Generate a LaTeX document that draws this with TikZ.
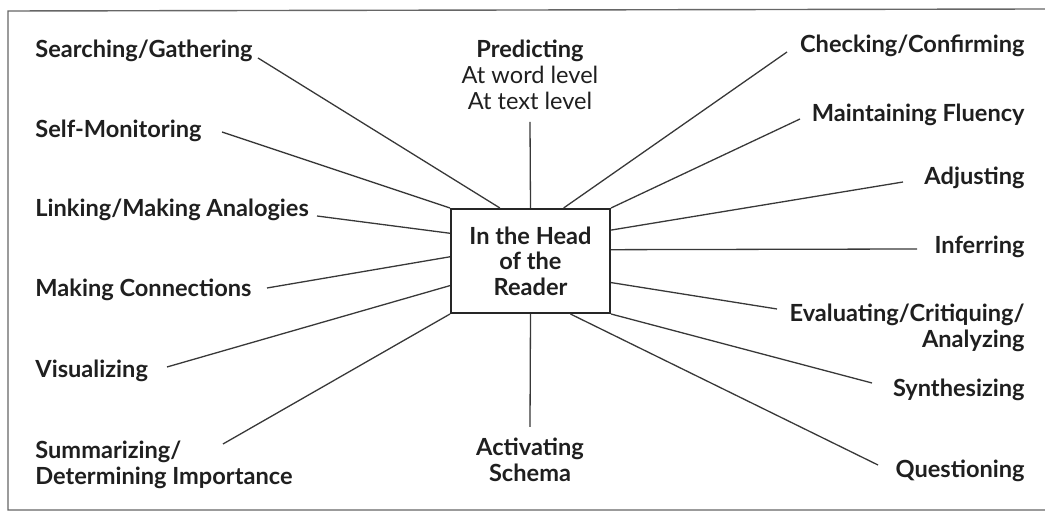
\documentclass[tikz,border=0pt]{standalone}
\usepackage{fontspec}
\setmainfont{Lato}
\begin{document}
\begin{tikzpicture}[x=0.5pt,y=-0.5pt,
		lab/.style={font=\fontsize{11.8}{13}\selectfont\bfseries, text=black!88, inner sep=0pt},
		spoke/.style={draw=black!78, line width=0.65pt},
		headbox/.style={draw=black!85, line width=1pt, minimum width=79.5pt, minimum height=52pt,
			inner sep=0pt, align=center, font=\fontsize{11.8}{12.8}\selectfont\bfseries, text=black!88},
		frame/.style={draw=black!60, line width=0.7pt}]
		\useasboundingbox (0,0) rectangle (1045,512);
		\draw[frame] (1045,9) -- (8,11) -- (8,510) -- (1045,510);
		
		\node[headbox] (head) at (530.5,261) {In the Head\\of the\\Reader};
		
		% left side
		\node[lab, anchor=base west] (search) at (35,58) {Searching/Gathering};
		\node[lab, anchor=base west] (selfmon) at (35,138) {Self-Monitoring};
		\node[lab, anchor=base west] (linking) at (35,217) {Linking/Making Analogies};
		\node[lab, anchor=base west] (connect) at (35,297) {Making Connections};
		\node[lab, anchor=base west] (visual) at (35,378) {Visualizing};
		\node[lab, anchor=base west, align=left] (summ) at (35,485)
			{Summarizing/\\Determining Importance};
		
		% top and bottom (base = last line)
		\node[lab, anchor=base, align=center] (predict) at (530,110)
			{Predicting\\{\mdseries At word level}\\{\mdseries At text level}};
		\node[lab, anchor=base, align=center] (activ) at (530,482) {Activating\\Schema};
		
		% right side
		\node[lab, anchor=base east] (check) at (1025,53) {Checking/Confirming};
		\node[lab, anchor=base east] (fluency) at (1025,122) {Maintaining Fluency};
		\node[lab, anchor=base east] (adjust) at (1025,185) {Adjusting};
		\node[lab, anchor=base east] (infer) at (1025,254) {Inferring};
		\node[lab, anchor=base east, align=right] (evaluate) at (1025,348)
			{Evaluating/Critiquing/\\Analyzing};
		\node[lab, anchor=base east] (synth) at (1025,397) {Synthesizing};
		\node[lab, anchor=base east] (quest) at (1025,478) {Questioning};
		
		\coordinate (searchEnd) at (258,58);
		\coordinate (selfmonEnd) at (222,132);
		\coordinate (linkingEnd) at (317,216);
		\coordinate (connectEnd) at (267,288);
		\coordinate (visualEnd) at (167,367);
		\coordinate (summEnd) at (223,444);
		\coordinate (predictEnd) at (530,122);
		\coordinate (activEnd) at (530,427);
		\coordinate (checkEnd) at (787,52);
		\coordinate (fluencyEnd) at (800,119);
		\coordinate (adjustEnd) at (903,182);
		\coordinate (inferEnd) at (917,249);
		\coordinate (evaluateEnd) at (777,309);
		\coordinate (synthEnd) at (872,383);
		\coordinate (questEnd) at (878,465);
		
		\draw[spoke] (searchEnd) -- (head.120);
		\draw[spoke] (selfmonEnd) -- (head.north west);
		\draw[spoke] (linkingEnd) -- (head.161);
		\draw[spoke] (connectEnd) -- (head.177);
		\draw[spoke] (visualEnd) -- (head.197);
		\draw[spoke] (summEnd) -- (head.south west);
		\draw[spoke] (predictEnd) -- (head.north);
		\draw[spoke] (activEnd) -- (head.south);
		\draw[spoke] (checkEnd) -- (head.58);
		\draw[spoke] (fluencyEnd) -- (head.north east);
		\draw[spoke] (adjustEnd) -- (head.21);
		\draw[spoke] (inferEnd) -- (head.8);
		\draw[spoke] (evaluateEnd) -- (head.345);
		\draw[spoke] (synthEnd) -- (head.south east);
		\draw[spoke] (questEnd) -- (head.307);
	\end{tikzpicture}
\end{document}
